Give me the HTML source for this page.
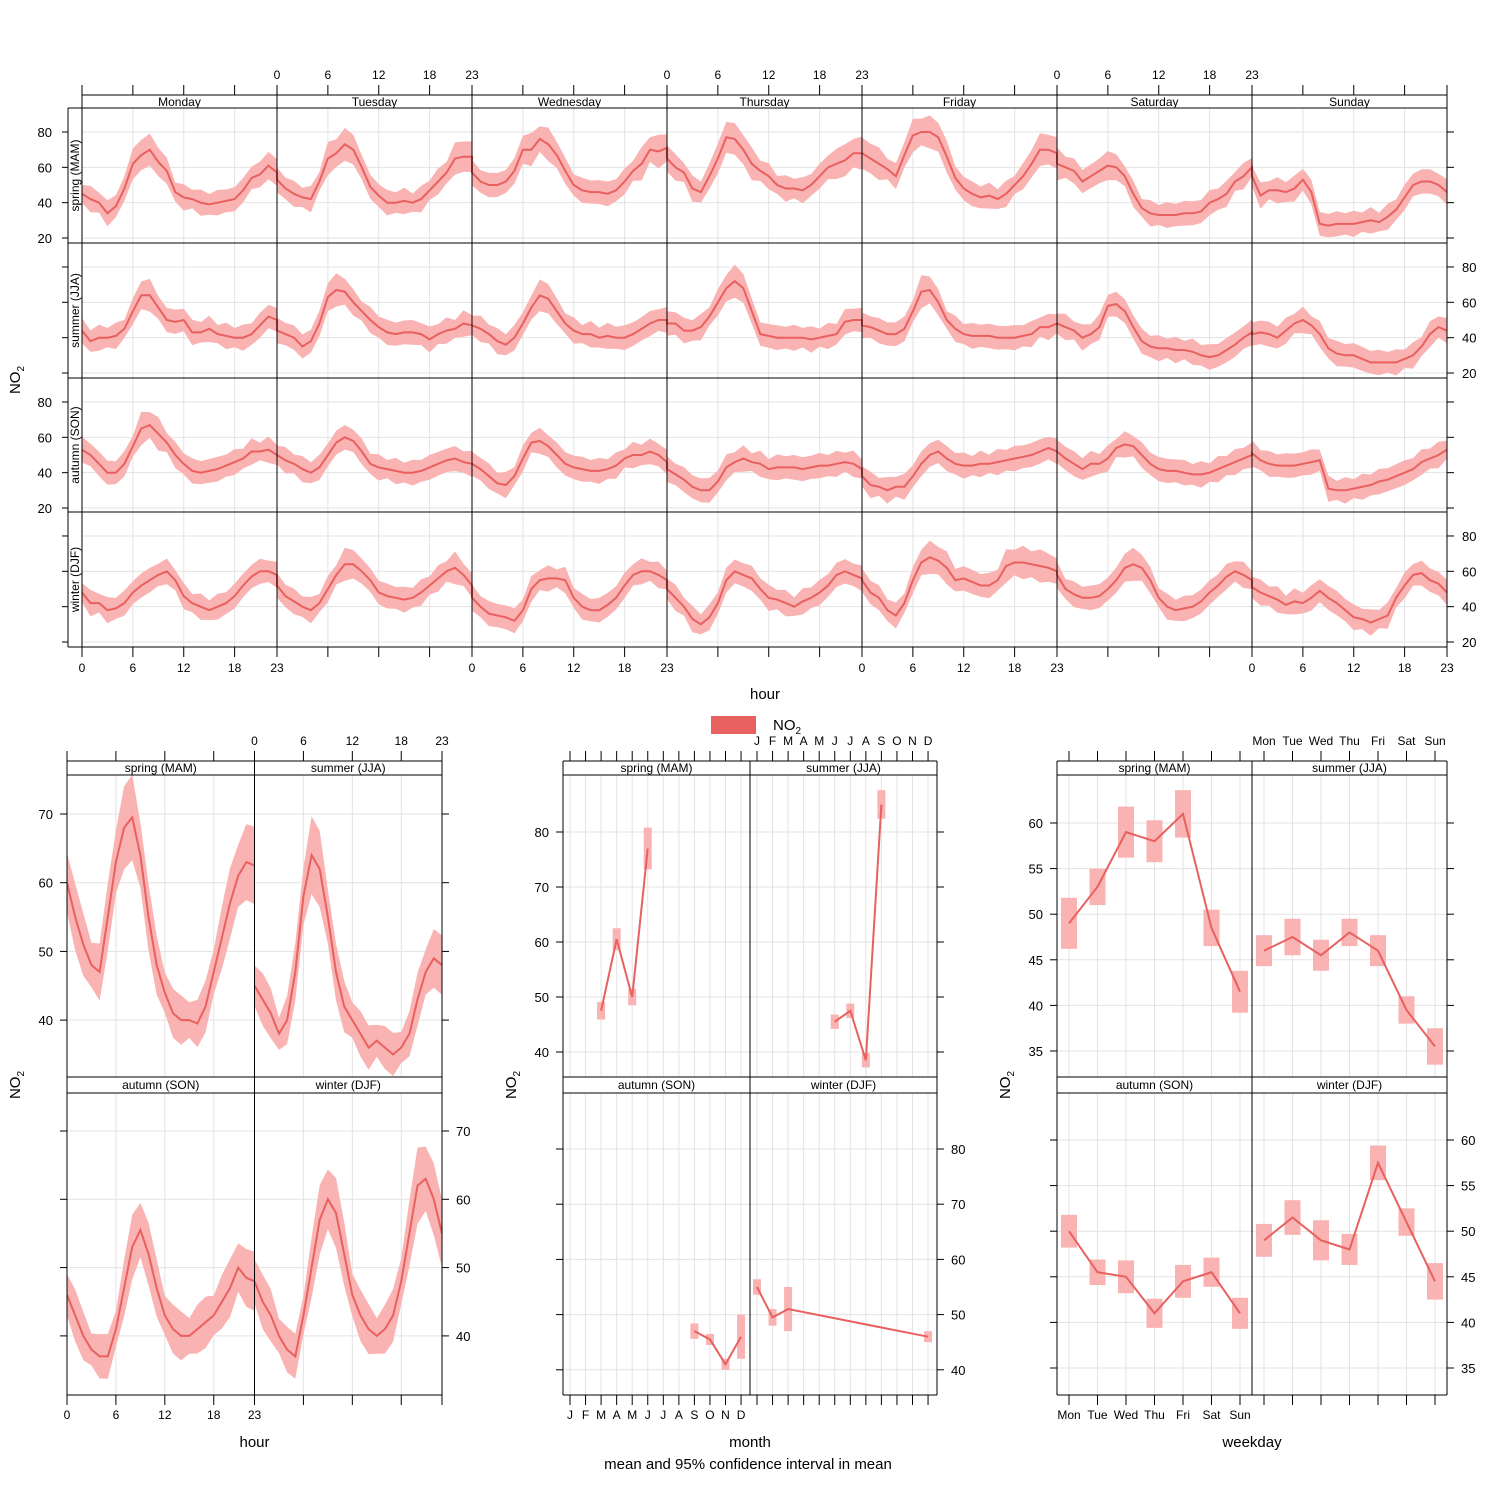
<!DOCTYPE html>
<html><head><meta charset="utf-8"><style>
html,body{margin:0;padding:0;background:#fff}
svg{display:block;font-family:"Liberation Sans",Arial,sans-serif}
</style></head><body>
<svg id="s" width="1500" height="1500" viewBox="0 0 1500 1500" xmlns="http://www.w3.org/2000/svg"></svg>
<script>
const S=[];const LC="#e8605f",BC="#f9b3b2",GC="#e3e3e3";
function L(x1,y1,x2,y2,c,w){S.push(`<line x1="${x1}" y1="${y1}" x2="${x2}" y2="${y2}" stroke="${c||'#000'}" stroke-width="${w||1}"/>`);}
function T(x,y,s,a,sz,rot){S.push(`<text x="${x}" y="${y}" font-size="${sz||13}" text-anchor="${a||'middle'}"${rot?` transform="rotate(-90 ${x} ${y})"`:''}>${s}</text>`);}
let cid=0;
function series(xs,m,hw,yf,clip){
  const id='c'+(cid++);
  S.push(`<clipPath id="${id}"><rect x="${clip[0]}" y="${clip[1]}" width="${clip[2]-clip[0]}" height="${clip[3]-clip[1]}"/></clipPath>`);
  let up=[],dn=[],ln=[];
  for(let i=0;i<m.length;i++){up.push(xs[i].toFixed(1)+','+yf(m[i]+hw[i]).toFixed(1));dn.unshift(xs[i].toFixed(1)+','+yf(m[i]-hw[i]).toFixed(1));ln.push(xs[i].toFixed(1)+','+yf(m[i]).toFixed(1));}
  S.push(`<g clip-path="url(#${id})"><polygon points="${up.concat(dn).join(' ')}" fill="${BC}"/><polyline points="${ln.join(' ')}" fill="none" stroke="${LC}" stroke-width="2"/></g>`);
}
// ---------- TOP ----------
const D=[ // rows: spring, summer, autumn, winter ; each 7 days x 24
[[45,42,40,34,38,48,62,67,70,63,58,46,43,42,40,39,40,41,42,47,54,56,61,57],
[53,48,45,43,42,52,65,68,73,70,60,49,44,40,40,41,40,42,47,52,57,65,66,66],
[57,52,50,50,52,58,70,70,76,73,67,58,50,47,46,46,45,47,52,58,62,70,69,71],
[65,60,57,48,46,55,65,77,76,70,62,58,55,50,48,48,47,50,55,60,62,64,68,68],
[68,65,62,59,55,67,78,80,80,77,66,54,48,45,43,44,42,45,50,55,62,70,70,68],
[62,60,58,52,55,58,61,60,55,45,37,34,33,33,33,34,34,35,40,42,45,52,55,60],
[55,44,47,47,46,48,53,46,28,27,28,28,28,29,30,29,32,36,43,50,52,52,50,46]],
[[44,38,40,40,41,45,55,64,64,57,50,49,50,43,43,45,42,41,40,40,42,47,52,50],
[44,42,40,35,38,48,63,67,66,60,55,50,46,43,42,43,43,42,39,42,44,45,48,47],
[47,45,42,38,36,40,48,57,64,62,55,48,44,42,42,40,41,40,40,42,45,48,50,50],
[48,48,44,44,46,52,60,68,72,68,55,42,41,40,40,40,40,39,40,41,42,49,50,50],
[47,46,44,42,42,45,55,66,67,60,50,45,42,41,41,41,40,40,40,41,42,46,46,48],
[48,46,44,40,42,46,58,59,55,46,38,35,34,34,33,33,32,30,29,30,33,36,40,43],
[42,43,42,40,44,48,50,47,42,34,31,30,30,28,26,26,26,26,28,30,35,42,46,44]],
[[53,50,45,40,40,45,55,65,67,62,57,50,45,41,40,41,42,44,46,48,52,52,53,50],
[50,47,45,42,40,43,50,57,60,58,52,45,43,42,41,40,40,41,43,45,47,48,46,45],
[45,42,38,34,33,38,48,57,58,55,50,45,43,42,41,41,42,44,48,50,50,52,50,46],
[42,39,36,32,30,30,35,43,46,48,46,45,42,43,43,43,42,43,44,44,45,46,45,42],
[38,33,32,30,32,32,38,45,50,52,48,45,44,44,45,45,46,47,48,49,50,52,54,52],
[52,48,45,42,45,45,48,54,56,55,50,45,42,41,41,40,39,39,40,42,44,46,48,50],
[51,47,45,44,44,44,45,46,47,31,30,30,31,32,33,35,36,38,40,42,46,48,50,53]],
[[48,42,42,38,39,42,48,52,55,58,60,55,46,42,40,38,40,42,46,52,57,60,60,58],
[52,46,43,40,38,42,50,58,64,64,60,55,48,46,45,44,45,48,52,56,60,62,58,52],
[45,40,36,35,34,32,38,50,55,56,56,55,45,40,38,38,41,45,52,58,60,60,58,55],
[50,45,40,33,30,34,42,55,60,58,56,50,45,44,42,40,43,45,48,52,58,60,58,56],
[55,48,45,38,35,42,55,65,68,66,62,55,56,54,52,52,55,63,65,65,64,63,62,60],
[58,50,47,45,45,46,50,55,62,64,62,55,45,40,38,39,40,43,48,52,57,60,58,55],
[51,48,46,44,41,43,42,45,49,45,42,38,34,33,31,33,35,45,52,58,59,55,53,48]]];
const days=['Monday','Tuesday','Wednesday','Thursday','Friday','Saturday','Sunday'];
const rows=[['spring (MAM)',108],['summer (JJA)',243],['autumn (SON)',378],['winter (DJF)',512]];
const dx=195/23;
rows.forEach((r,ri)=>{
  const top=r[1],bot=ri<3?rows[ri+1][1]:647,yf=v=>top+130-(v-20)*1.767;
  [20,40,60,80].forEach(v=>L(82,yf(v),1447,yf(v),GC));
  for(let d=0;d<7;d++)[6,12,18].forEach(h=>L(82+d*195+h*dx,top,82+d*195+h*dx,bot,GC));
  let xs=[],m=[],hw=[];
  for(let d=0;d<7;d++)for(let h=0;h<24;h++){const xx=82+d*195+Math.min(h,23)*dx;xs.push(xx);const v=D[ri][d][h];m.push(v);hw.push(5+2.5*Math.abs(Math.sin(h*1.7+d+ri))+(v>60?2:0));}
  series(xs,m,hw,yf,[82,top,1447,bot]);
  // y ticks
  [20,40,60,80].forEach(v=>{L(62,yf(v),68,yf(v));L(1447,yf(v),1454,yf(v));
    if(ri%2==0)T(52,yf(v)+5,v,'end');else T(1462,yf(v)+5,v,'start');});
  T(79,(top+bot)/2,r[0],'middle',12,1);
  L(68,top,1447,top);
});
L(68,647,1447,647);L(68,108,68,647);L(82,95,1447,95);
for(let d=0;d<=7;d++)L(82+d*195,95,82+d*195,647);
days.forEach((n,d)=>{T(82+d*195+97.5,106,n,'middle',12);
  [0,6,12,18,23].forEach(h=>{const xx=82+d*195+h*dx;
    if(d%2==1){L(xx,85,xx,95);T(xx,79,h,'middle',12);}else L(xx,85,xx,95);
    if(d%2==0){L(xx,647,xx,657);T(xx,672,h,'middle',12);}else L(xx,647,xx,657);});});
T(20,380,'NO<tspan font-size="10" dy="4">2</tspan>','middle',15,1);
T(765,699,'hour','middle',15);
S.push(`<rect x="711" y="716" width="45" height="18" fill="${LC}"/>`);
T(773,730,'NO<tspan font-size="10" dy="4">2</tspan>','start',15);
// ---------- bottom frame helper ----------
function frame(x0,x1,names,topLab,botLab,ticksX,rowsY,yticks,ylab,xlab){
  const xm=(x0+x1)/2;
  // strips
  L(x0,761,x1,761);L(x0,775,x1,775);L(x0,1077,x1,1077);L(x0,1093,x1,1093);L(x0,1395,x1,1395);
  L(x0,761,x0,1395);L(x1,761,x1,1395);L(xm,761,xm,1395);
  T((x0+xm)/2,772,names[0],'middle',12);T((xm+x1)/2,772,names[1],'middle',12);
  T((x0+xm)/2,1089,names[2],'middle',12);T((xm+x1)/2,1089,names[3],'middle',12);
  ticksX.forEach((t,i)=>{const a=t[0],b=t[1];
    L(x0+a,1395,x0+a,1405);L(xm+a,1395,xm+a,1405);T(x0+a,1419,b,'middle',12);
    L(x0+a,751,x0+a,761);L(xm+a,751,xm+a,761);T(xm+a,745,b,'middle',12);});
  rowsY.forEach((yf,ri)=>{yticks.forEach(v=>{const y=yf(v);L(x0-7,y,x0,y);L(x1,y,x1+7,y);
    if(ri==0)T(x0-14,y+5,v,'end');else T(x1+14,y+5,v,'start');});});
  T(x0-47,1085,'NO<tspan font-size="10" dy="4">2</tspan>','middle',15,1);
  T(xm,1447,xlab,'middle',15);
}
// ---------- hour panel ----------
{const x0=67,x1=442,xm=254.5,hx=187.5/23;
const y1=v=>814+(70-v)*6.87,y2=v=>1131+(70-v)*6.83;
const H=[[60,55,51,48,47,55,63,68,69.5,64,55,48,44,41,40,40,39.5,42,47,52,57,61,63,62.5],
[45,43,41,38,40,47,58,64,62,55,47,42,40,38,36,37,36,35,36,38,43,47,49,48],
[46,43,40,38,37,37,41,47,53,55.5,52,47,43,41,40,40,41,42,43,45,47,50,48.5,48],
[48,45,43,40,38,37,43,50,57,60,58,52,46,43,41,40,41,43,48,55,62,63,60,55]];
[[y1,775,1077],[y2,1093,1395]].forEach((r,ri)=>{
  [40,50,60,70].forEach(v=>L(x0,r[0](v),x1,r[0](v),GC));
  [6,12,18].forEach(h=>{L(x0+h*hx,r[1],x0+h*hx,r[2],GC);L(xm+h*hx,r[1],xm+h*hx,r[2],GC);});
  for(let c=0;c<2;c++){const d=H[ri*2+c],xb=c?xm:x0;
    series(d.map((v,h)=>xb+h*hx),d,d.map((v,h)=>2.5+(v-40)*0.09+Math.abs(Math.sin(h*2.1))*1.2),r[0],[xb,r[1],xb+187.5,r[2]]);}
});
frame(x0,x1,['spring (MAM)','summer (JJA)','autumn (SON)','winter (DJF)'],0,0,[[0,0],[6*hx,6],[12*hx,12],[18*hx,18],[23*hx,23]],[y1,y2],[40,50,60,70],0,'hour');}
// ---------- month panel ----------
{const x0=563,x1=937,xm=750,mx=15.55,o=7;
const y1=v=>832+(80-v)*5.5,y2=v=>1149+(80-v)*5.52;
const M=[[[3,47.5,1.6],[4,60.5,2],[5,50,1.5],[6,77,3.8]],[[6,45.5,1.3],[7,47.5,1.3],[8,38.5,1.3],[9,85,2.6]],
[[9,47,1.4],[10,45.5,1],[11,41,1],[12,46,4]],[[1,55,1.4],[2,49.5,1.5],[3,51,4],[12,46,1]]];
[[y1,775,1077],[y2,1093,1395]].forEach((r,ri)=>{
  [40,50,60,70,80].forEach(v=>L(x0,r[0](v),x1,r[0](v),GC));
  for(let m=0;m<12;m++){L(x0+o+m*mx,r[1],x0+o+m*mx,r[2],GC);L(xm+o+m*mx,r[1],xm+o+m*mx,r[2],GC);}
  for(let c=0;c<2;c++){const d=M[ri*2+c],xb=(c?xm:x0)+o;
    d.forEach(p=>{const x=xb+(p[0]-1)*mx;S.push(`<rect x="${x-4}" y="${r[0](p[1]+p[2])}" width="8" height="${r[0](p[1]-p[2])-r[0](p[1]+p[2])}" fill="${BC}"/>`);});
    S.push(`<polyline points="${d.map(p=>(xb+(p[0]-1)*mx)+','+r[0](p[1])).join(' ')}" fill="none" stroke="${LC}" stroke-width="2"/>`);}
});
frame(x0,x1,['spring (MAM)','summer (JJA)','autumn (SON)','winter (DJF)'],0,0,'JFMAMJJASOND'.split('').map((c,i)=>[o+i*mx,c]),[y1,y2],[40,50,60,70,80],0,'month');
T(748,1469,'mean and 95% confidence interval in mean','middle',15);}
// ---------- weekday panel ----------
{const x0=1057,x1=1447,xm=1252,wx=28.5,o=12;
const y1=v=>823+(60-v)*9.12,y2=v=>1140+(60-v)*9.12;
const W=[[49,53,59,58,61,48.5,41.5],[46,47.5,45.5,48,46,39.5,35.5],[50,45.5,45,41,44.5,45.5,41],[49,51.5,49,48,57.5,51,44.5]];
const E=[[2.8,2,2.8,2.3,2.6,2,2.3],[1.7,2,1.7,1.5,1.7,1.5,2],[1.8,1.4,1.8,1.6,1.8,1.6,1.7],[1.8,1.9,2.2,1.7,1.9,1.5,2]];
const wd=['Mon','Tue','Wed','Thu','Fri','Sat','Sun'];
[[y1,775,1077],[y2,1093,1395]].forEach((r,ri)=>{
  [35,40,45,50,55,60].forEach(v=>L(x0,r[0](v),x1,r[0](v),GC));
  for(let i=0;i<7;i++){L(x0+o+i*wx,r[1],x0+o+i*wx,r[2],GC);L(xm+o+i*wx,r[1],xm+o+i*wx,r[2],GC);}
  for(let c=0;c<2;c++){const d=W[ri*2+c],e=E[ri*2+c],xb=(c?xm:x0)+o;
    d.forEach((v,i)=>{const x=xb+i*wx;S.push(`<rect x="${x-8}" y="${r[0](v+e[i])}" width="16" height="${r[0](v-e[i])-r[0](v+e[i])}" fill="${BC}"/>`);});
    S.push(`<polyline points="${d.map((v,i)=>(xb+i*wx)+','+r[0](v)).join(' ')}" fill="none" stroke="${LC}" stroke-width="2"/>`);}
});
frame(x0,x1,['spring (MAM)','summer (JJA)','autumn (SON)','winter (DJF)'],0,0,wd.map((n,i)=>[o+i*wx,n]),[y1,y2],[35,40,45,50,55,60],0,'weekday');}
document.getElementById('s').innerHTML=S.join('');
</script>
</body></html>
